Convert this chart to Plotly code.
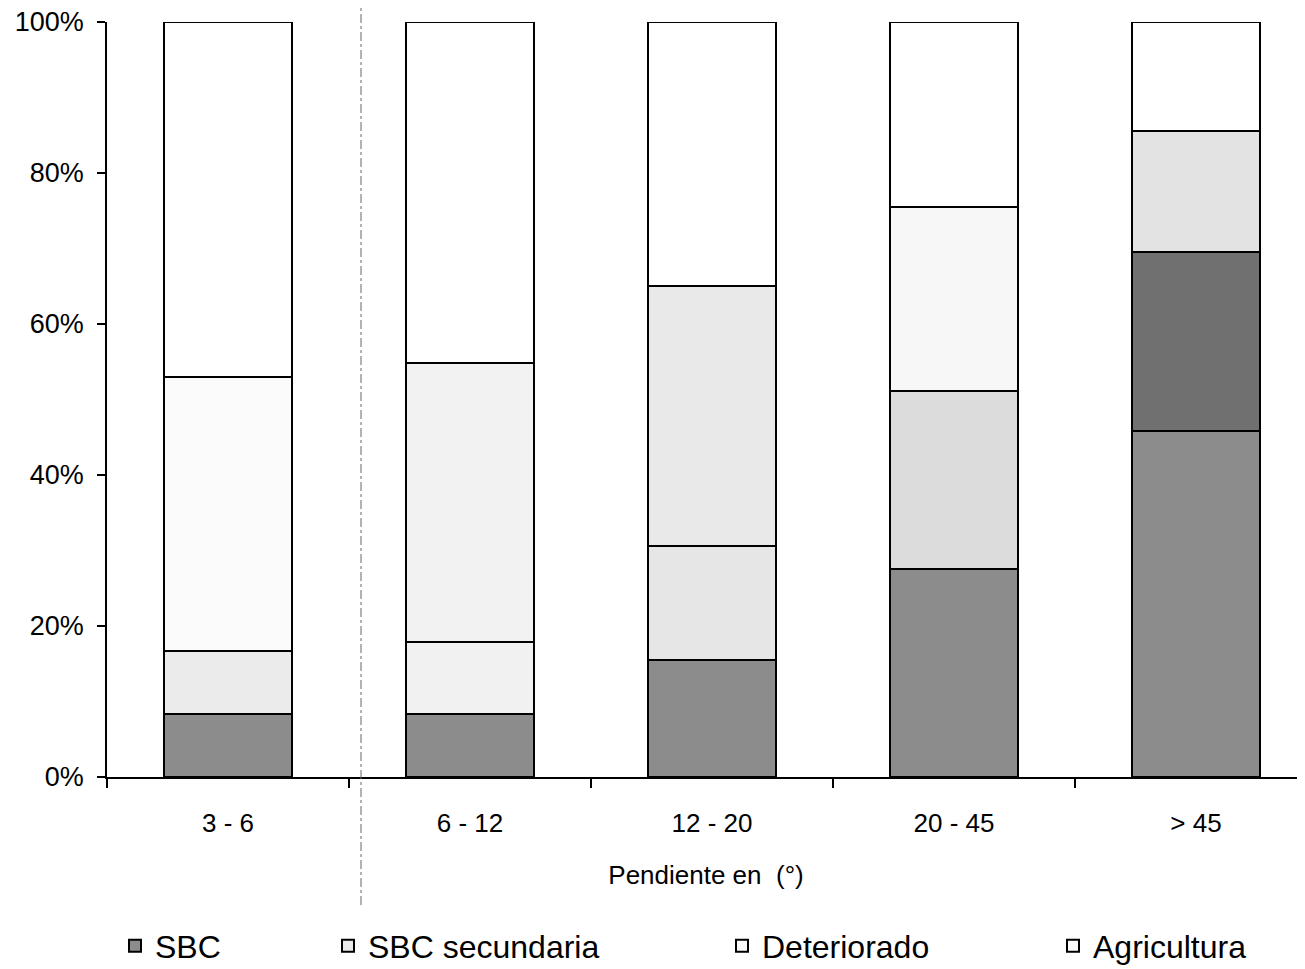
import plotly.graph_objects as go

categories = ["3 - 6", "6 - 12", "12 - 20", "20 - 45", "> 45"]
sbc = [8.3, 8.4, 15.5, 27.5, 45.8]
sbc_secundaria = [8.4, 9.5, 15.1, 23.6, 23.7]
deteriorado = [36.3, 37.0, 34.4, 24.4, 16.0]
agricultura = [47.0, 45.1, 35.0, 24.5, 14.5]
series_names = ["SBC", "SBC secundaria", "Deteriorado", "Agricultura"]
y_ticks = [0, 20, 40, 60, 80, 100]
y_tick_labels = ["0%", "20%", "40%", "60%", "80%", "100%"]
x_title = "Pendiente en  (°)"

fill_colors = [
    "#8c8c8c",
    ["#ebebeb", "#f1f1f1", "#e6e6e6", "#dcdcdc", "#707070"],
    ["#fbfbfb", "#f2f2f2", "#e9e9e9", "#f7f7f7", "#e3e3e3"],
    "#ffffff",
]
legend_ids = ["legend", "legend2", "legend3", "legend4"]
# page x where each legend block starts (text begins ~40px later)
legend_x_px = [115, 328, 722, 1053]

# default body margin of the html page (8px); page is cropped at the window
OFF = 8
W, H = 1305 - OFF, 969 - OFF
left, right, top, bottom = 107 - OFF, 1305 - OFF, 22 - OFF, 777 - OFF
cat_px = 242.0  # pixel width of one category slot
x_max = -0.5 + (right - left) / cat_px
legend_center = 946 - OFF

fig = go.Figure()
for name, vals, col, lg in zip(series_names, [sbc, sbc_secundaria, deteriorado, agricultura], fill_colors, legend_ids):
    fig.add_trace(go.Bar(
        x=categories, y=vals, name=name, legend=lg,
        marker=dict(color=col, line=dict(color="black", width=2)),
        width=0.525, cliponaxis=False,
    ))

font_family = "Liberation Sans, Arial, sans-serif"

layout_legends = {}
for lg, px in zip(legend_ids, legend_x_px):
    layout_legends[lg] = dict(
        x=(px - OFF) / W, xref="container",
        y=(H - legend_center) / H, yref="container",
        xanchor="left", yanchor="middle", orientation="h",
        font=dict(family=font_family, size=32, color="black"),
        bgcolor="rgba(0,0,0,0)",
    )

fig.update_layout(
    template=go.layout.Template(),
    width=W, height=H, autosize=False,
    margin=dict(l=left, r=W - right, t=top, b=H - bottom, pad=0, autoexpand=False),
    plot_bgcolor="white", paper_bgcolor="white",
    barmode="stack", showlegend=True,
    font=dict(family=font_family, size=26, color="black"),
    **layout_legends,
)
fig.update_xaxes(
    range=[-0.5, x_max], showline=True, linecolor="black", linewidth=1.5,
    ticks="outside", tickson="boundaries", ticklen=9, tickcolor="black", tickwidth=1.5,
    ticklabelstandoff=22, showgrid=False, automargin=False,
    tickfont=dict(size=26),
    title=dict(text=x_title, standoff=29, font=dict(size=26)),
)
fig.update_yaxes(
    range=[0, 100], tickvals=y_ticks, ticktext=y_tick_labels, showline=True, linecolor="black",
    linewidth=1.5, ticks="outside", ticklen=8, tickcolor="black", tickwidth=1.5,
    showgrid=False, zeroline=False, tickfont=dict(size=27), ticklabelstandoff=8,
    automargin=False, ticklabeloverflow="allow",
)
xl = (361 - OFF - left) / (right - left)
fig.add_shape(type="line", xref="paper", yref="paper",
              x0=xl, x1=xl,
              y0=(bottom - (905 - OFF)) / (bottom - top), y1=(bottom + OFF) / (bottom - top),
              line=dict(color="#666666", width=1, dash="dashdot"))
fig.write_html("out.html")
